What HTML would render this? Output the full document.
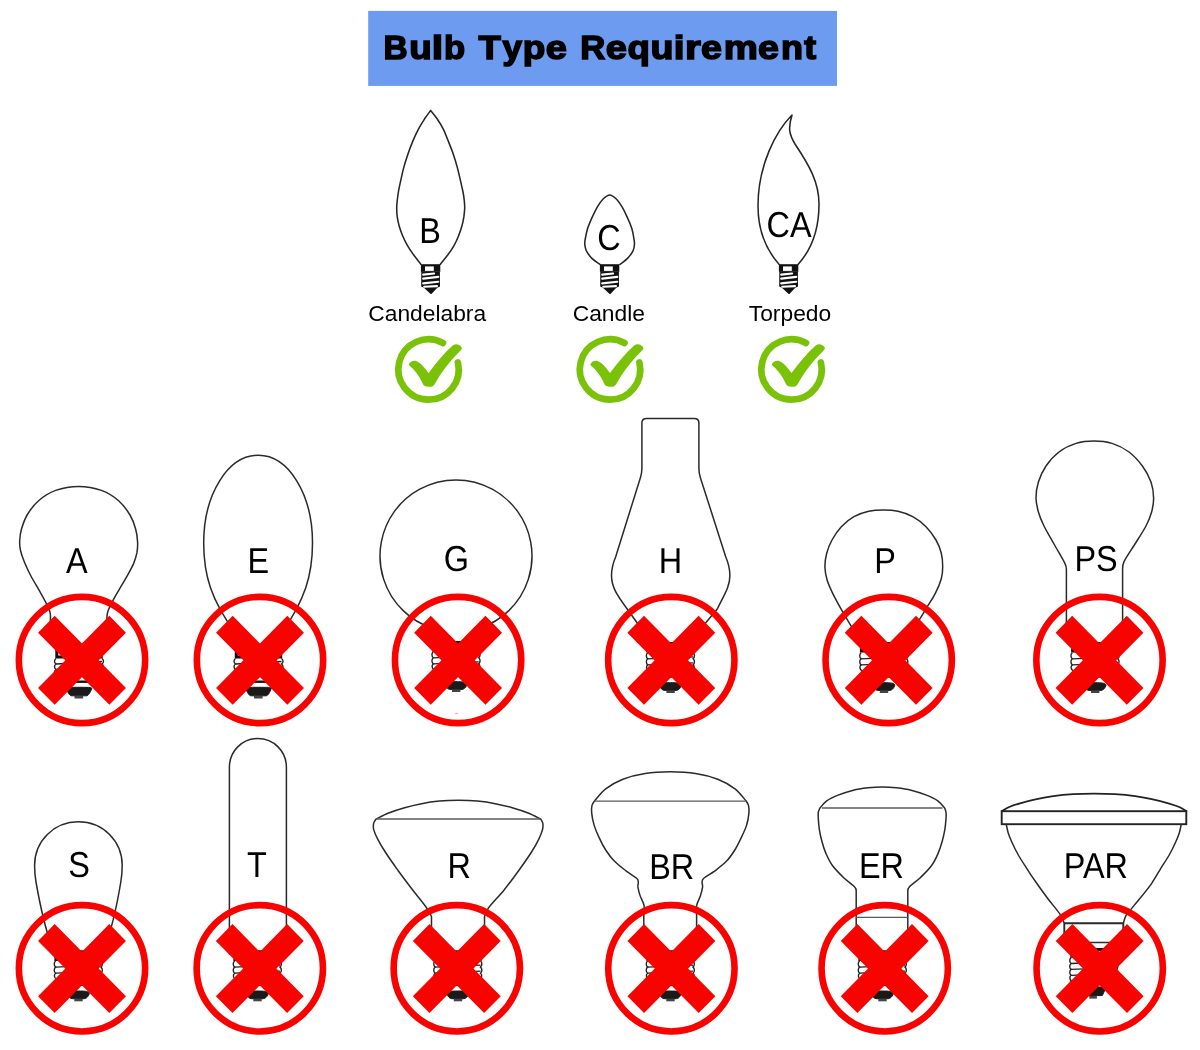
<!DOCTYPE html>
<html>
<head>
<meta charset="utf-8">
<title>Bulb Type Requirement</title>
<style>
html,body{margin:0;padding:0;background:#fff;}
body{width:1200px;height:1050px;overflow:hidden;font-family:"Liberation Sans",sans-serif;}
svg{display:block;font-family:"Liberation Sans",sans-serif;will-change:transform;}
.o{fill:none;stroke:#2a2a2a;stroke-width:1.5;stroke-linecap:round;stroke-linejoin:round;}
.o2{fill:none;stroke:#262626;stroke-width:1.55;stroke-linecap:round;stroke-linejoin:round;}
.t{fill:none;stroke:#5a5a5a;stroke-width:1.3;}
.l{fill:#000;text-rendering:geometricPrecision;font-size:36px;}
.n{fill:#000;font-size:22.8px;text-anchor:middle;}
</style>
</head>
<body>
<svg width="1200" height="1050" viewBox="0 0 1200 1050">
<defs>
  <!-- red prohibition mark, centred on 0,0 -->
  <g id="no">
    <circle cx="0" cy="0" r="63.150" fill="none" stroke="#f70300" stroke-width="6.600"/>
    <g fill="#f70300" transform="translate(0,0.300) scale(0.996,1.008)">
      <rect x="-50.600" y="-11.800" width="101.200" height="23.600" transform="rotate(45)"/>
      <rect x="-50.600" y="-11.800" width="101.200" height="23.600" transform="rotate(-45)"/>
    </g>
  </g>
  <!-- green check mark, centred on 0,0 -->
  <g id="ok">
    <path d="M14.500 -26.500 A 30.200 30.200 0 1 0 29.400 -7" fill="none" stroke="#7ac208" stroke-width="6.700" stroke-linecap="round"/>
    <path d="M-19.600 -5 C-19 -8,-15 -9.500,-12.500 -8.600 C-8 -7,-4 -2,0 3.500 C8 -7,16 -17,24.200 -24 C27 -26,31.500 -25.500,33.400 -21.500 C33.500 -20,32 -19,30.900 -17.800 C21 -8,12.500 3,6.600 14 C4.600 17.400,2.500 17.400,0.300 17.200 C-2.500 17.200,-4.500 17,-5.800 14 C-9.500 6,-14 0,-19.600 -4.500Z" fill="#7ac208"/>
  </g>
  <!-- E26 screw base, top-centre at 0,0 (collar top) -->
  <g id="base">
    <rect x="-22.200" y="1.500" width="44.400" height="10.500" fill="#fff" stroke="#111" stroke-width="3"/>
    <path d="M-24 14 L24 14 L24 35 L-24 35Z" fill="#fff"/>
    <path d="M-23 13.500 c-2 1.5,-2 4,0 5.5 c-2 1.500,-2 4,0 5.5 c-2 1.5,-2 4,0 5.500 c-2 1.5,-2 3,1 4.500" fill="none" stroke="#222" stroke-width="1.4"/>
    <path d="M23 13.500 c2 1.5,2 4,0 5.5 c2 1.500,2 4,0 5.5 c2 1.5,2 4,0 5.500 c2 1.5,2 3,-1 4.500" fill="none" stroke="#222" stroke-width="1.4"/>
    <path d="M-23 19 L23 16.500 M-23 24.500 L23 22 M-23 30 L23 27.500" stroke="#222" stroke-width="1.3" fill="none"/>
    <rect x="-14" y="35.500" width="28" height="2.400" fill="#111"/>
    <path d="M-12.800 43.500 C-12.800 42.300,-9 42.300,0 42.300 C9 42.300,12.800 42.300,12.800 43.500 C11.500 47,9.500 50.800,7.500 50.800 L-7.500 50.800 C-9.500 50.800,-11.500 47,-12.800 43.500Z" fill="#1a1a1a" stroke="#1a1a1a" stroke-width="1" stroke-linejoin="round"/>
    <rect x="-4.500" y="50.800" width="8.600" height="2.700" fill="#444"/>
  </g>
  <!-- smaller E26 base variant, top-centre at 0,0 -->
  <g id="base2">
    <rect x="-22.400" y="1.500" width="44.800" height="7.700" fill="#fff" stroke="#111" stroke-width="3"/>
    <path d="M-24 10.700 L24 10.700 L24 29 L-24 29Z" fill="#fff"/>
    <path d="M-22.700 10.700 c-1.800 1.500,-1.800 4.600,0 6.100 c-1.800 1.500,-1.800 4.600,0 6.100 c-1.800 1.500,-1.800 4.600,1.200 6.100" fill="none" stroke="#222" stroke-width="1.400"/>
    <path d="M22.700 10.700 c1.800 1.500,1.800 4.600,0 6.100 c1.800 1.500,1.800 4.600,0 6.100 c1.800 1.500,1.800 4.600,-1.200 6.100" fill="none" stroke="#222" stroke-width="1.400"/>
    <path d="M-22.700 16.800 L22.700 14.800 M-22.700 22.900 L22.700 20.900 M-21.500 29 L21.500 27" stroke="#222" stroke-width="1.300" fill="none"/>
    <rect x="-13" y="33.500" width="26" height="2.200" fill="#111"/>
    <path d="M-11 43.500 C-11 41,-7 40.700,0 40.700 C7 40.700,11 41,11 43.500 C10 46.300,8 48.400,6 48.400 L-6 48.400 C-8 48.400,-10 46.300,-11 43.500Z" fill="#1a1a1a" stroke="#1a1a1a" stroke-width="1" stroke-linejoin="round"/>
    <rect x="-4" y="48.500" width="8.400" height="2.500" fill="#444"/>
  </g>
  <!-- PAR base variant: 4 threads -->
  <g id="base3">
    <rect x="-24" y="0" width="48" height="3" fill="#111"/>
    <rect x="-23.500" y="6.800" width="4" height="3" fill="#111"/>
    <rect x="19.500" y="6.800" width="4" height="3" fill="#111"/>
    <path d="M-22.700 9.600 c-1.800 1.400,-1.800 4.500,0 5.900 c-1.800 1.400,-1.800 4.500,0 5.900 c-1.800 1.400,-1.800 4.500,0 5.900 c-1.800 1.400,-1.800 4.500,1.200 6.500" fill="none" stroke="#222" stroke-width="1.400"/>
    <path d="M22.700 9.600 c1.800 1.400,1.800 4.500,0 5.900 c1.800 1.400,1.800 4.500,0 5.900 c1.800 1.400,1.800 4.500,0 5.900 c1.800 1.400,1.800 4.500,-1.200 6.500" fill="none" stroke="#222" stroke-width="1.400"/>
    <path d="M-22.700 15.500 L22.700 13.700 M-22.700 21.400 L22.700 19.600 M-22.700 27.300 L22.700 25.500 M-24 33.800 L24 32" stroke="#222" stroke-width="1.300" fill="none"/>
    <path d="M-12.500 39 L12.500 39 L8.500 47.600 L-8.500 47.600Z" fill="#1a1a1a" stroke="#1a1a1a" stroke-width="1" stroke-linejoin="round"/>
    <rect x="-4.500" y="48" width="7.600" height="2.600" fill="#444"/>
  </g>
  <!-- candelabra base, top-centre at 0,0 -->
  <g id="cbase">
    <path d="M-9.700 0 L9.700 0 L9.700 7.700 L-9.700 7.700Z" fill="#111"/>
    <rect x="-5.600" y="2.200" width="8.800" height="4.500" fill="#fff"/>
    <path d="M-9.300 7.700 L9.300 7.700 L9.400 22.300 L6.700 23.600 L1.300 29.200 Q0.400 30.200,-0.500 29.200 L-6.700 23.600 L-9.400 22.300Z" fill="#111"/>
    <path d="M-7.400 10.400 L3.500 9.300 M-7.400 14.400 L7.700 12.700 M-7.400 19.200 L7.700 17.500 M-6.400 22.500 L6.400 21.900" stroke="#fff" stroke-width="2.100" fill="none" stroke-linecap="round"/>
  </g>
</defs>

<!-- header -->
<rect x="368.200" y="10.900" width="468.800" height="75" fill="#6c9bf0"/>
<g font-weight="bold" font-size="32.400" fill="#000" stroke="#000" stroke-width="1.500" stroke-linejoin="miter" stroke-miterlimit="2.500">
  <text transform="translate(383.52,58.500) scale(1.035,1)">B</text>
  <text transform="translate(409.14,58.500) scale(1.136,1)">u</text>
  <text transform="translate(431.87,58.500) scale(1.267,1)">l</text>
  <text transform="translate(444.08,58.500) scale(1.070,1)">b</text>
  <text transform="translate(478.53,58.500) scale(1.128,1)">T</text>
  <text transform="translate(502.45,58.500) scale(1.080,1)">y</text>
  <text transform="translate(522.77,58.500) scale(1.139,1)">p</text>
  <text transform="translate(545.63,58.500) scale(1.175,1)">e</text>
  <text transform="translate(580.37,58.500) scale(1.069,1)">R</text>
  <text transform="translate(605.63,58.500) scale(1.175,1)">e</text>
  <text transform="translate(627.38,58.500) scale(1.130,1)">q</text>
  <text transform="translate(650.41,58.500) scale(1.160,1)">u</text>
  <text transform="translate(673.77,58.500) scale(1.199,1)">i</text>
  <text transform="translate(684.91,58.500) scale(1.252,1)">r</text>
  <text transform="translate(701.04,58.500) scale(1.163,1)">e</text>
  <text transform="translate(723.81,58.500) scale(1.184,1)">m</text>
  <text transform="translate(758.04,58.500) scale(1.163,1)">e</text>
  <text transform="translate(780.91,58.500) scale(1.112,1)">n</text>
  <text transform="translate(804.29,58.500) scale(1.096,1)">t</text>
</g>

<!-- ===== top row ===== -->
<!-- B -->
<path class="o2" d="M420.8 264.2 C419.6 262.6,415.8 257.9,413.6 254.8 C411.4 251.7,409.3 248.8,407.5 245.6 C405.7 242.4,404.0 239.0,402.6 235.7 C401.2 232.4,400.0 229.0,399.1 225.8 C398.2 222.6,397.6 219.7,397.2 216.7 C396.8 213.7,396.7 210.8,396.7 208.0 C396.7 205.2,397.0 202.7,397.3 200.0 C397.6 197.3,397.9 195.1,398.4 192.0 C398.9 188.9,399.6 185.7,400.5 181.7 C401.4 177.7,402.4 172.6,403.6 168.1 C404.8 163.6,406.3 158.9,407.8 154.5 C409.3 150.1,410.8 146.1,412.5 141.9 C414.2 137.7,416.3 133.2,418.3 129.3 C420.3 125.5,422.6 121.9,424.6 118.8 C426.7 115.7,429.6 111.9,430.6 110.5 C431.7 111.9,435.0 115.7,437.1 118.8 C439.2 121.9,441.5 125.5,443.4 129.3 C445.3 133.2,446.9 137.7,448.6 141.9 C450.3 146.1,451.9 150.1,453.4 154.5 C454.9 158.9,456.3 163.6,457.5 168.1 C458.7 172.6,459.8 177.7,460.7 181.7 C461.6 185.7,462.4 188.9,463.0 192.0 C463.6 195.1,463.9 197.3,464.2 200.0 C464.5 202.7,464.8 205.2,464.7 208.0 C464.6 210.8,464.3 213.7,463.9 216.7 C463.4 219.7,462.9 222.6,462.0 225.8 C461.1 229.0,459.9 232.4,458.6 235.7 C457.3 239.0,455.8 242.4,454.0 245.6 C452.2 248.8,450.2 251.7,447.9 254.8 C445.6 257.9,441.6 262.6,440.4 264.2"/>
<use href="#cbase" x="430.600" y="264.200"/>
<text class="l" transform="translate(419.2,243.1) scale(0.90,1)">B</text>
<!-- C -->
<path class="o2" d="M600.1 264.5 C598.8 263.4,594.2 260.7,591.9 258.4 C589.6 256.1,587.6 253.0,586.4 250.8 C585.3 248.5,585.0 246.6,584.8 244.7 C584.6 242.9,584.7 242.4,585.1 239.8 C585.6 237.1,586.4 232.5,587.5 228.8 C588.7 225.2,590.3 221.5,591.9 217.9 C593.6 214.2,595.6 210.0,597.4 206.9 C599.2 203.8,600.8 201.3,602.9 199.2 C604.9 197.2,607.4 194.9,609.7 194.9 C612.0 194.9,614.5 197.2,616.6 199.2 C618.6 201.3,620.2 203.8,622.1 206.9 C623.9 210.0,625.9 214.2,627.5 217.9 C629.2 221.5,630.8 225.2,631.9 228.8 C633.0 232.5,633.7 237.1,634.1 239.8 C634.5 242.4,634.6 242.9,634.4 244.7 C634.3 246.6,634.2 248.5,633.0 250.8 C631.9 253.0,629.7 256.1,627.5 258.4 C625.3 260.7,621.1 263.4,619.9 264.5"/>
<use href="#cbase" x="609.600" y="264.200"/>
<text class="l" transform="translate(597.2,249.7) scale(0.90,1)">C</text>
<!-- CA -->
<path class="o2" d="M779 264.200 C765.500 249,758 230,758 206 C758 165,776 131,792 115 C788 128,789 134,795 144 C809 165,819 182,819 204 C819 228,812 249,798.200 264.200"/>
<use href="#cbase" x="788.600" y="264.200"/>
<text class="l" transform="translate(766.5,236.7) scale(0.90,1)">CA</text>

<text class="n" x="427.200" y="321.300">Candelabra</text>
<text class="n" x="608.800" y="321.300">Candle</text>
<text class="n" x="790" y="321.300">Torpedo</text>

<use href="#ok" x="428.500" y="369.500"/>
<use href="#ok" x="610" y="369.500"/>
<use href="#ok" x="791.500" y="369.500"/>

<!-- ===== middle row ===== -->
<!-- A -->
<path class="o" d="M50.4 641 L50.4 619.3 C50.4 618.1,50.8 615.0,50.0 612.1 C49.2 609.3,47.6 606.0,45.7 602.1 C43.8 598.3,41.1 593.8,38.6 589.3 C36.0 584.8,32.9 579.8,30.4 575.0 C28.0 570.2,25.5 564.9,23.9 560.7 C22.2 556.5,21.1 553.3,20.4 550.0 C19.7 546.7,19.5 544.2,19.7 540.7 C19.9 537.3,20.2 533.6,21.4 529.3 C22.7 525.0,24.3 519.8,27.1 515.0 C30.0 510.2,33.8 504.8,38.6 500.7 C43.3 496.6,49.0 492.8,55.7 490.4 C62.4 488.0,71.0 486.4,78.6 486.4 C86.2 486.4,94.8 488.0,101.4 490.4 C108.1 492.8,113.8 496.6,118.6 500.7 C123.3 504.8,127.1 510.2,130.0 515.0 C132.9 519.8,134.5 524.8,135.7 529.3 C137.0 533.8,137.4 538.2,137.6 542.1 C137.8 546.1,137.5 549.3,136.9 552.9 C136.2 556.4,135.2 559.6,133.6 563.6 C131.9 567.5,129.2 572.1,126.9 576.4 C124.5 580.7,121.6 585.2,119.3 589.3 C117.0 593.3,114.8 596.9,112.9 600.7 C110.9 604.5,108.7 609.0,107.7 612.1 C106.7 615.2,107.0 618.1,106.9 619.3 L106.9 646"/>
<use href="#base" x="79" y="645"/>
<text class="l" transform="translate(65.9,572.9) scale(0.90,1)">A</text>
<!-- E -->
<path class="o" d="M236 646 L236 634 C211 600,203.700 575,203.700 543 C203.700 494,228 455.300,258.300 455.300 C288.500 455.300,312.500 494,312.500 543 C312.500 575,305 600,281 634 L281 646"/>
<use href="#base" x="258.500" y="645"/>
<text class="l" transform="translate(247.5,572.8) scale(0.90,1)">E</text>
<!-- G -->
<path class="o" d="M432 644 L432 628.100 A76 76 0 1 1 480 628.100 L480 644"/>
<use href="#base2" x="456" y="641"/>
<text class="l" transform="translate(443.7,570.9) scale(0.90,1)">G</text>
<!-- H -->
<path class="o" d="M648 646 L648 638 L627.200 609 C617 595,611.500 587,611.500 575.500 C611.500 568,613 563,615.700 556.700 L640.400 477.700 Q641.900 473,641.900 468.500 L641.900 423 Q641.900 418.400,646.500 418.400 L694.300 418.400 Q698.900 418.400,698.900 423 L698.900 468.500 Q698.900 473,700.400 477.700 L725.700 556.700 C728.400 563,729.900 568,729.900 575.500 C729.900 587,724 595,717.300 609 L693 638 L693 646"/>
<use href="#base2" x="670.400" y="642"/>
<text class="l" transform="translate(658.7,572.6) scale(0.90,1)">H</text>
<!-- P -->
<path class="o" d="M860.7 642.0 C859.0 639.2,853.8 630.6,850.7 625.3 C847.6 620.1,845.0 616.0,842.0 610.7 C839.0 605.3,835.2 598.4,832.7 593.3 C830.2 588.2,828.4 584.4,827.1 580.0 C825.8 575.6,825.0 571.1,824.9 566.7 C824.9 562.2,825.5 557.8,826.7 553.3 C827.8 548.9,829.6 544.4,832.0 540.0 C834.4 535.6,837.7 530.6,841.3 526.7 C845.0 522.8,849.4 519.2,854.0 516.7 C858.6 514.1,863.8 512.4,868.7 511.3 C873.6 510.2,878.4 510.0,883.3 510.0 C888.2 510.0,893.1 510.2,898.0 511.3 C902.9 512.4,908.0 514.1,912.7 516.7 C917.3 519.2,922.1 522.8,926.0 526.7 C929.9 530.6,933.4 535.6,936.0 540.0 C938.6 544.4,940.2 548.9,941.3 553.3 C942.4 557.8,942.7 562.4,942.7 566.7 C942.7 570.9,942.6 574.2,941.3 578.7 C940.1 583.1,937.7 588.7,935.3 593.3 C933.0 598.0,929.9 602.4,927.3 606.7 C924.8 610.9,923.6 612.8,920.0 618.7 C916.4 624.6,908.3 638.1,906.0 642.0"/>
<use href="#base2" x="883.800" y="642"/>
<text class="l" transform="translate(874.2,572.8) scale(0.90,1)">P</text>
<!-- PS -->
<path class="o" d="M1066.4 641 L1066.4 571.0 C1066.2 569.8,1067.1 568.1,1065.0 563.6 C1062.9 559.1,1057.5 550.3,1054.0 544.0 C1050.5 537.7,1046.6 531.3,1044.0 526.0 C1041.4 520.7,1039.7 516.7,1038.4 512.0 C1037.1 507.3,1036.0 503.0,1036.0 498.0 C1036.0 493.0,1036.7 487.3,1038.4 482.0 C1040.1 476.7,1042.6 471.0,1046.0 466.0 C1049.4 461.0,1054.0 455.8,1059.0 452.0 C1064.0 448.2,1070.2 445.2,1076.0 443.4 C1081.8 441.6,1088.0 441.0,1094.0 441.0 C1100.0 441.0,1106.2 441.6,1112.0 443.4 C1117.8 445.2,1123.9 448.2,1129.0 452.0 C1134.1 455.8,1138.7 461.0,1142.4 466.0 C1146.1 471.0,1149.1 476.7,1151.0 482.0 C1152.9 487.3,1153.5 493.0,1153.6 498.0 C1153.7 503.0,1152.9 507.3,1151.6 512.0 C1150.3 516.7,1148.8 520.7,1146.0 526.0 C1143.2 531.3,1138.7 538.1,1135.0 544.0 C1131.3 549.9,1126.1 557.1,1124.0 561.6 C1121.9 566.1,1122.8 569.4,1122.6 571.0 L1122.6 646"/>
<use href="#base2" x="1095" y="642"/>
<text class="l" transform="translate(1074.5,570.7) scale(0.90,1)">PS</text>

<use href="#no" x="82" y="660"/>
<use href="#no" x="260" y="660"/>
<use href="#no" x="458.100" y="660"/>
<use href="#no" x="671.300" y="660"/>
<use href="#no" x="888.700" y="660"/>
<use href="#no" x="1099.500" y="660"/>

<ellipse cx="456.500" cy="713.300" rx="1.800" ry="0.600" fill="#b8b8b8"/>
<!-- ===== bottom row ===== -->
<!-- S -->
<path class="o" d="M53 954 L53 950 C47 934,40 905,36 882 C35 876,34.600 871,34.600 865.500 C34.600 841,54 821.800,78.300 821.800 C103 821.800,122.200 841,122.200 865.500 C122.200 871,121.800 876,120.800 882 C117 905,110 934,104 950 L104 954"/>
<use href="#base2" x="78.300" y="950.300"/>
<text class="l" transform="translate(68.3,876.6) scale(0.90,1)">S</text>
<!-- T -->
<path class="o" d="M229.400 954 L229.400 767 A28.500 28.500 0 0 1 286.400 767 L286.400 954"/>
<use href="#base2" x="257.300" y="950.300"/>
<text class="l" transform="translate(247.0,877.1) scale(0.90,1)">T</text>
<!-- R -->
<path class="o" d="M431.5 952 L431.5 916.7 C430.7 915.2,429.9 912.4,426.7 908.0 C423.6 903.5,417.2 895.9,412.5 889.7 C407.7 883.5,402.7 876.9,398.2 870.7 C393.8 864.5,389.0 857.8,385.6 852.5 C382.2 847.3,379.6 842.9,377.7 839.1 C375.7 835.3,374.4 832.2,373.7 829.6 C373.0 826.9,373.3 825.0,373.7 823.2 C374.1 821.5,375.7 819.7,376.1 819.0 C378.2 818.0,384.0 814.8,388.7 813.0 C393.5 811.1,399.3 809.2,404.6 807.7 C409.9 806.2,414.6 805.0,420.4 803.9 C426.2 802.8,433.1 801.7,439.4 801.1 C445.7 800.5,452.1 800.3,458.4 800.3 C464.7 800.3,471.1 800.5,477.4 801.1 C483.7 801.7,490.6 802.8,496.4 803.9 C502.2 805.0,507.0 806.2,512.2 807.7 C517.5 809.2,523.3 811.1,528.1 813.0 C532.8 814.8,538.6 818.0,540.7 819.0 C541.1 819.7,542.5 821.5,542.8 823.2 C543.1 825.0,543.1 826.9,542.5 829.6 C541.8 832.2,540.7 835.3,538.8 839.1 C537.0 842.9,534.6 847.3,531.2 852.5 C527.9 857.8,523.1 864.5,518.6 870.7 C514.1 876.9,509.3 883.5,504.3 889.7 C499.3 895.9,491.8 903.5,488.5 908.0 C485.2 912.4,485.2 915.2,484.5 916.7 L484.5 952"/>
<path class="t" d="M376.300 819 L540.800 819"/>
<use href="#base2" x="457.800" y="950.300"/>
<text class="l" transform="translate(447.5,878.3) scale(0.90,1)">R</text>
<!-- BR -->
<path class="o" d="M643.8 952 L643.8 915.2 C643.8 913.6,644.7 909.0,644.1 905.7 C643.5 902.4,641.0 898.6,640.0 895.4 C639.0 892.3,638.2 889.1,637.9 886.9 C637.7 884.6,638.5 883.5,638.3 882.1 C638.1 880.6,638.6 880.1,636.6 878.3 C634.6 876.5,630.0 873.9,626.3 871.1 C622.6 868.2,617.7 864.7,614.3 861.1 C610.9 857.6,608.3 854.0,605.7 850.0 C603.1 846.0,600.8 841.3,598.9 837.1 C596.9 833.0,595.3 829.1,594.1 825.1 C592.9 821.1,592.0 816.4,591.7 813.1 C591.3 809.9,591.5 807.5,592.0 805.4 C592.5 803.4,594.1 801.6,594.6 800.8 C596.4 798.8,601.0 792.4,605.7 788.8 C610.4 785.2,616.3 781.8,622.9 779.2 C629.4 776.6,637.2 774.6,645.1 773.4 C653.1 772.1,661.9 771.7,670.3 771.7 C678.7 771.7,687.6 772.1,695.5 773.4 C703.5 774.6,711.3 776.6,717.8 779.2 C724.4 781.8,730.3 785.2,735.0 788.8 C739.7 792.4,744.1 798.8,746.0 800.8 C746.4 801.6,748.0 803.4,748.5 805.4 C749.0 807.5,749.2 809.9,748.9 813.1 C748.6 816.4,747.9 821.1,746.6 825.1 C745.4 829.1,743.5 833.0,741.5 837.1 C739.5 841.3,737.3 846.0,734.8 850.0 C732.3 854.0,730.0 857.6,726.6 861.1 C723.2 864.7,718.4 868.2,714.6 871.1 C710.8 873.9,705.9 876.5,703.8 878.3 C701.7 880.1,702.3 880.6,702.1 882.1 C701.9 883.5,702.8 884.6,702.6 886.9 C702.3 889.1,701.5 892.3,700.5 895.4 C699.5 898.6,697.2 902.4,696.6 905.7 C695.9 909.0,696.6 913.6,696.6 915.2 L696.6 952"/>
<path class="t" d="M594.600 801.100 L745.400 801.100"/>
<use href="#base2" x="670.300" y="950.300"/>
<text class="l" transform="translate(649.2,878.5) scale(0.90,1)">BR</text>
<!-- ER -->
<path class="o" d="M856.2 952 L856.2 891.4 C855.9 890.7,856.8 889.2,854.7 886.9 C852.7 884.6,847.4 881.2,843.7 877.7 C840.0 874.1,835.4 869.6,832.4 865.5 C829.4 861.5,827.7 857.4,825.9 853.4 C824.2 849.3,822.9 845.2,821.9 841.2 C820.8 837.3,820.0 833.7,819.4 829.9 C818.8 826.1,818.5 821.5,818.3 818.6 C818.1 815.7,818.1 814.1,818.3 812.4 C818.5 810.7,819.5 808.9,819.8 808.2 C820.9 807.0,823.7 803.0,826.7 800.8 C829.8 798.6,833.6 796.9,838.1 795.1 C842.5 793.3,848.4 791.5,853.4 790.2 C858.4 789.0,863.2 788.4,868.0 787.8 C872.8 787.3,877.5 787.0,882.3 787.0 C887.0 787.0,891.7 787.3,896.5 787.8 C901.3 788.4,906.1 789.0,911.1 790.2 C916.1 791.5,922.0 793.3,926.5 795.1 C930.9 796.9,934.7 798.6,937.8 800.8 C940.8 803.0,943.6 807.0,944.8 808.2 C945.0 808.9,945.8 810.7,946.0 812.4 C946.3 814.1,946.3 815.7,946.0 818.6 C945.8 821.5,945.4 826.1,944.8 829.9 C944.1 833.7,943.3 837.3,942.2 841.2 C941.1 845.2,939.9 849.3,938.1 853.4 C936.4 857.4,934.6 861.5,931.6 865.5 C928.7 869.6,924.0 874.1,920.3 877.7 C916.6 881.2,911.4 884.6,909.3 886.9 C907.2 889.2,908.1 890.7,907.8 891.4 L907.8 952"/>
<path class="t" d="M821.900 808 L942.500 808"/>
<path class="t" d="M856.200 917.300 L907.700 917.300"/>
<use href="#base2" x="882.300" y="950.300"/>
<text class="l" transform="translate(858.9,878.3) scale(0.90,1)">ER</text>
<!-- PAR -->
<path class="o" style="stroke-width:1.800;stroke:#222" d="M1002.0 811.2 C1003.2 810.5,1006.2 808.3,1009.2 807.0 C1012.2 805.7,1015.4 804.6,1020.0 803.3 C1024.6 802.0,1031.1 800.4,1036.7 799.2 C1042.2 798.0,1047.2 797.0,1053.3 796.2 C1059.4 795.3,1066.5 794.6,1073.3 794.2 C1080.1 793.8,1087.2 793.7,1094.2 793.7 C1101.1 793.7,1108.2 793.8,1115.0 794.2 C1121.8 794.6,1128.9 795.3,1135.0 796.2 C1141.1 797.0,1146.1 798.0,1151.7 799.2 C1157.2 800.4,1163.8 802.0,1168.3 803.3 C1172.9 804.6,1176.2 805.7,1179.2 807.0 C1182.2 808.3,1185.1 810.5,1186.3 811.2"/>
<rect x="1001.700" y="811.200" width="184.600" height="13" fill="#fff" stroke="#222" stroke-width="1.900"/>
<path class="o" d="M1006.3 824.7 C1006.7 826.1,1007.4 830.5,1008.3 833.3 C1009.2 836.2,1010.0 838.1,1011.7 841.7 C1013.3 845.3,1015.8 850.6,1018.3 855.0 C1020.8 859.4,1023.6 863.6,1026.7 868.3 C1029.7 873.1,1033.1 878.2,1036.7 883.3 C1040.3 888.5,1044.4 894.0,1048.3 899.2 C1052.2 904.3,1057.4 910.3,1060.0 914.2 C1062.6 918.1,1063.3 921.1,1064.0 922.5"/>
<path class="o" d="M1181.2 824.7 C1180.8 826.1,1180.1 830.5,1179.2 833.3 C1178.3 836.2,1177.5 838.1,1175.8 841.7 C1174.2 845.3,1171.7 850.6,1169.2 855.0 C1166.7 859.4,1163.8 863.6,1160.8 868.3 C1157.9 873.1,1155.1 878.3,1151.7 883.3 C1148.2 888.3,1143.6 893.9,1140.0 898.3 C1136.4 902.8,1132.7 907.1,1130.3 910.0 C1128.0 912.9,1127.0 913.8,1125.8 915.8 C1124.7 917.9,1123.9 921.4,1123.5 922.5"/>
<path d="M1064.300 936 L1064.300 923.300 L1123.300 923.300 L1123.300 936" fill="none" stroke="#2a2a2a" stroke-width="1.900"/>
<path d="M1070 942.400 L1118 942.400" fill="none" stroke="#2a2a2a" stroke-width="1.500"/>
<use href="#base3" x="1093.800" y="948"/>
<text class="l" transform="translate(1063.8,878.4) scale(0.90,1)">PAR</text>

<use href="#no" x="82" y="968.300"/>
<use href="#no" x="259.800" y="968.300"/>
<use href="#no" x="456.800" y="968.300"/>
<use href="#no" x="671.400" y="968.300"/>
<use href="#no" x="884.700" y="968.300"/>
<use href="#no" x="1099.700" y="968.300"/>
</svg>
</body>
</html>
